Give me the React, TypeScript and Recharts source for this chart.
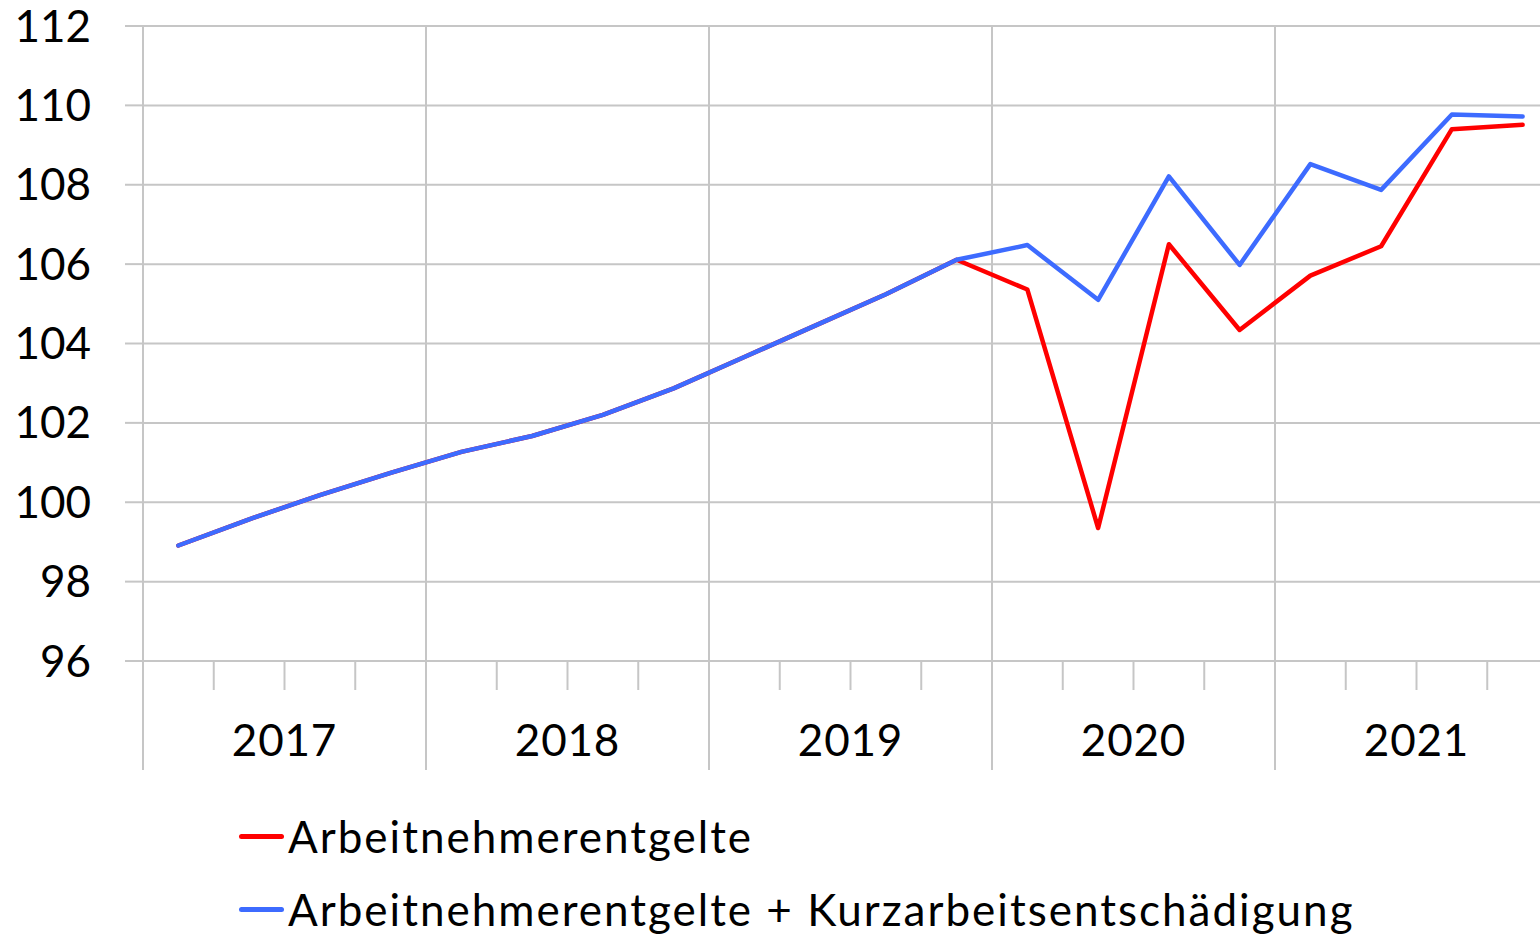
import React from 'react';
import { LineChart, Line, XAxis, YAxis, CartesianGrid, Legend } from 'recharts';

const quarters = [
  '2017 Q1', '2017 Q2', '2017 Q3', '2017 Q4',
  '2018 Q1', '2018 Q2', '2018 Q3', '2018 Q4',
  '2019 Q1', '2019 Q2', '2019 Q3', '2019 Q4',
  '2020 Q1', '2020 Q2', '2020 Q3', '2020 Q4',
  '2021 Q1', '2021 Q2', '2021 Q3', '2021 Q4',
];
const years = ['2017', '2018', '2019', '2020', '2021'];
const arbeitnehmerentgelte = [
  98.91, 99.57, 100.18, 100.74,
  101.27, 101.67, 102.2, 102.87,
  103.66, 104.45, 105.24, 106.11,
  105.36, 99.35, 106.5, 104.34,
  105.71, 106.45, 109.4, 109.51,
];
const mitKurzarbeit = [
  98.91, 99.57, 100.18, 100.74,
  101.27, 101.67, 102.2, 102.87,
  103.66, 104.45, 105.24, 106.11,
  106.48, 105.1, 108.21, 105.98,
  108.52, 107.87, 109.77, 109.72,
];
const yTicks = [96, 98, 100, 102, 104, 106, 108, 110, 112];
const seriesNames = ['Arbeitnehmerentgelte', 'Arbeitnehmerentgelte + Kurzarbeitsentschädigung'];
const seriesColors = ['#ff0000', '#3d6bff'];

const FONT = 'Lato, "Open Sans", sans-serif';
const GRID = '#c6c6c6';

const data = quarters.map((q, i) => ({
  quarter: q,
  pos: i + 0.5,
  a: arbeitnehmerentgelte[i],
  b: mitKurzarbeit[i],
}));
const quarterTicks = [...quarters.map((_, i) => i), quarters.length];
const yearBoundaries = [...years.map((_, i) => i * 4), quarters.length];

const QuarterTick = (props: any) => {
  const { x, y, payload } = props;
  const i = payload.value as number;
  const isYear = i % 4 === 0;
  const label = i % 4 === 2 ? years[Math.floor(i / 4)] : null;
  return (
    <g>
      <line x1={x} x2={x} y1={y} y2={y + (isYear ? 109 : 29)} stroke={GRID} strokeWidth={2} />
      {label && (
        <text x={x} y={y + 95} textAnchor="middle" fontFamily={FONT} fontSize={44} letterSpacing={0.8} fill="#000">
          {label}
        </text>
      )}
    </g>
  );
};

const LegendContent = (props: any) => {
  const payload = props.payload && props.payload.length
    ? props.payload
    : seriesNames.map((n, i) => ({ value: n, color: seriesColors[i] }));
  return (
    <div style={{ fontFamily: FONT, fontSize: 44, letterSpacing: 2, color: '#000' }}>
      {payload.map((p: any) => (
        <div key={p.value} style={{ display: 'flex', alignItems: 'center', height: 73, lineHeight: '73px' }}>
          <div style={{ width: 45, height: 5, borderRadius: 3, background: p.color, marginRight: 4 }} />
          <span style={{ whiteSpace: 'nowrap' }}>{p.value}</span>
        </div>
      ))}
    </div>
  );
};

export default function App() {
  return (
    <div style={{ position: 'absolute', left: 0, top: 0, width: 1540, height: 935, overflow: 'hidden', background: '#fff' }}>
      <LineChart
        width={1558}
        height={935}
        data={data}
        margin={{ top: 26, right: 0, bottom: 0, left: 0 }}
      >
        <XAxis
          xAxisId="main"
          type="number"
          dataKey="pos"
          domain={[0, 20]}
          ticks={quarterTicks}
          interval={0}
          height={274}
          tickSize={0}
          tickMargin={0}
          axisLine={false}
          tickLine={false}
          tick={<QuarterTick />}
        />
        <XAxis xAxisId="grid" type="number" dataKey="pos" domain={[0, 20]} ticks={yearBoundaries} height={0} hide />
        <YAxis
          domain={[96, 112]}
          ticks={yTicks}
          interval={0}
          width={143}
          axisLine={false}
          tickLine={{ stroke: GRID, strokeWidth: 2 }}
          tickSize={18}
          tickMargin={34}
          tick={{ fontFamily: FONT, fontSize: 44, fill: '#000' }}
        />
        <CartesianGrid xAxisId="grid" stroke={GRID} strokeWidth={2} />
        <Legend
          layout="vertical"
          verticalAlign="middle"
          align="center"
          wrapperStyle={{ position: 'absolute', left: 239, top: 800, width: 'auto' }}
          content={<LegendContent />}
        />
        <Line
          xAxisId="main"
          type="linear"
          dataKey="a"
          name={seriesNames[0]}
          stroke={seriesColors[0]}
          strokeWidth={4.5}
          strokeLinecap="round"
          strokeLinejoin="round"
          dot={false}
          activeDot={false}
          isAnimationActive={false}
        />
        <Line
          xAxisId="main"
          type="linear"
          dataKey="b"
          name={seriesNames[1]}
          stroke={seriesColors[1]}
          strokeWidth={4.5}
          strokeLinecap="round"
          strokeLinejoin="round"
          dot={false}
          activeDot={false}
          isAnimationActive={false}
        />
      </LineChart>
    </div>
  );
}
